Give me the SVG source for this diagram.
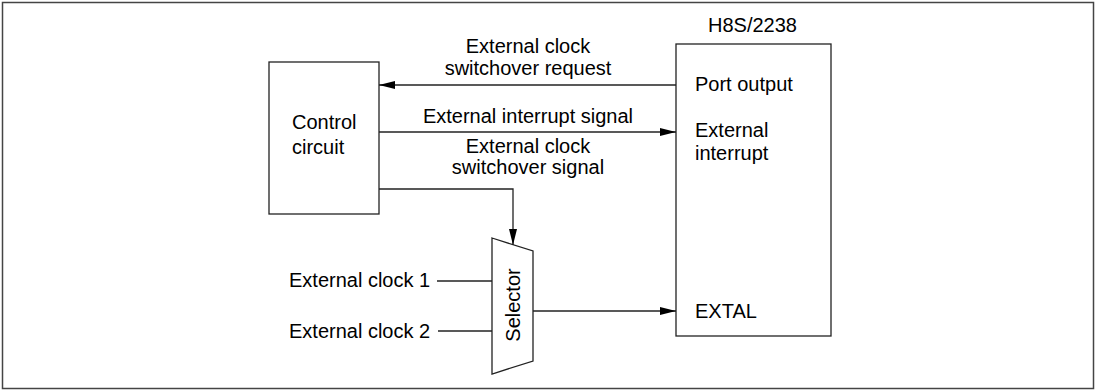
<svg xmlns="http://www.w3.org/2000/svg" width="1097" height="391" viewBox="0 0 1097 391">
<defs>
<style>
.t{font-family:"Liberation Sans",Arial,sans-serif;font-size:20px;fill:#000}
.c{text-anchor:middle}
.b{fill:#fff;stroke:#222;stroke-width:1.3}
.l{fill:none;stroke:#222;stroke-width:1.3}
</style>
<marker id="ah" viewBox="0 0 16 8" refX="16" refY="4" markerWidth="16" markerHeight="8" markerUnits="userSpaceOnUse" orient="auto">
<path d="M0,0 L16,4 L0,8 Z" fill="#000"/>
</marker>
</defs>
<rect x="2.5" y="2.5" width="1091" height="386" fill="#fff" stroke="#444" stroke-width="1.5"/>
<g id="control">
<rect class="b" x="269" y="62" width="110" height="152"/>
<text class="t" x="292" y="129">Control</text>
<text class="t" x="292" y="154">circuit</text>
</g>
<g id="h8s">
<rect class="b" x="676" y="44" width="155" height="292"/>
<text class="t" x="708" y="32">H8S/2238</text>
<text class="t" x="695" y="91">Port output</text>
<text class="t" x="695" y="137">External</text>
<text class="t" x="695" y="160">interrupt</text>
<text class="t" x="695" y="318">EXTAL</text>
</g>
<g id="selector">
<path class="b" d="M492,238 L533,251 L533,361 L492,374 Z"/>
<text class="t c" transform="translate(520,305) rotate(-90)">Selector</text>
</g>
<g id="inputs">
<text class="t" x="289" y="287">External clock 1</text>
<text class="t" x="289" y="338">External clock 2</text>
</g>
<g id="connectors">
<line class="l" x1="676" y1="85" x2="379" y2="85" marker-end="url(#ah)"/>
<line class="l" x1="379" y1="132" x2="676" y2="132" marker-end="url(#ah)"/>
<polyline class="l" points="379,189 513,189 513,245" marker-end="url(#ah)"/>
<line class="l" x1="437" y1="281" x2="492" y2="281"/>
<line class="l" x1="438" y1="331" x2="492" y2="331"/>
<line class="l" x1="533" y1="311" x2="676" y2="311" marker-end="url(#ah)"/>
</g>
<g id="labels">
<text class="t c" x="528" y="53">External clock</text>
<text class="t c" x="528" y="75">switchover request</text>
<text class="t c" x="528" y="123">External interrupt signal</text>
<text class="t c" x="528" y="153">External clock</text>
<text class="t c" x="528" y="174">switchover signal</text>
</g>
</svg>
